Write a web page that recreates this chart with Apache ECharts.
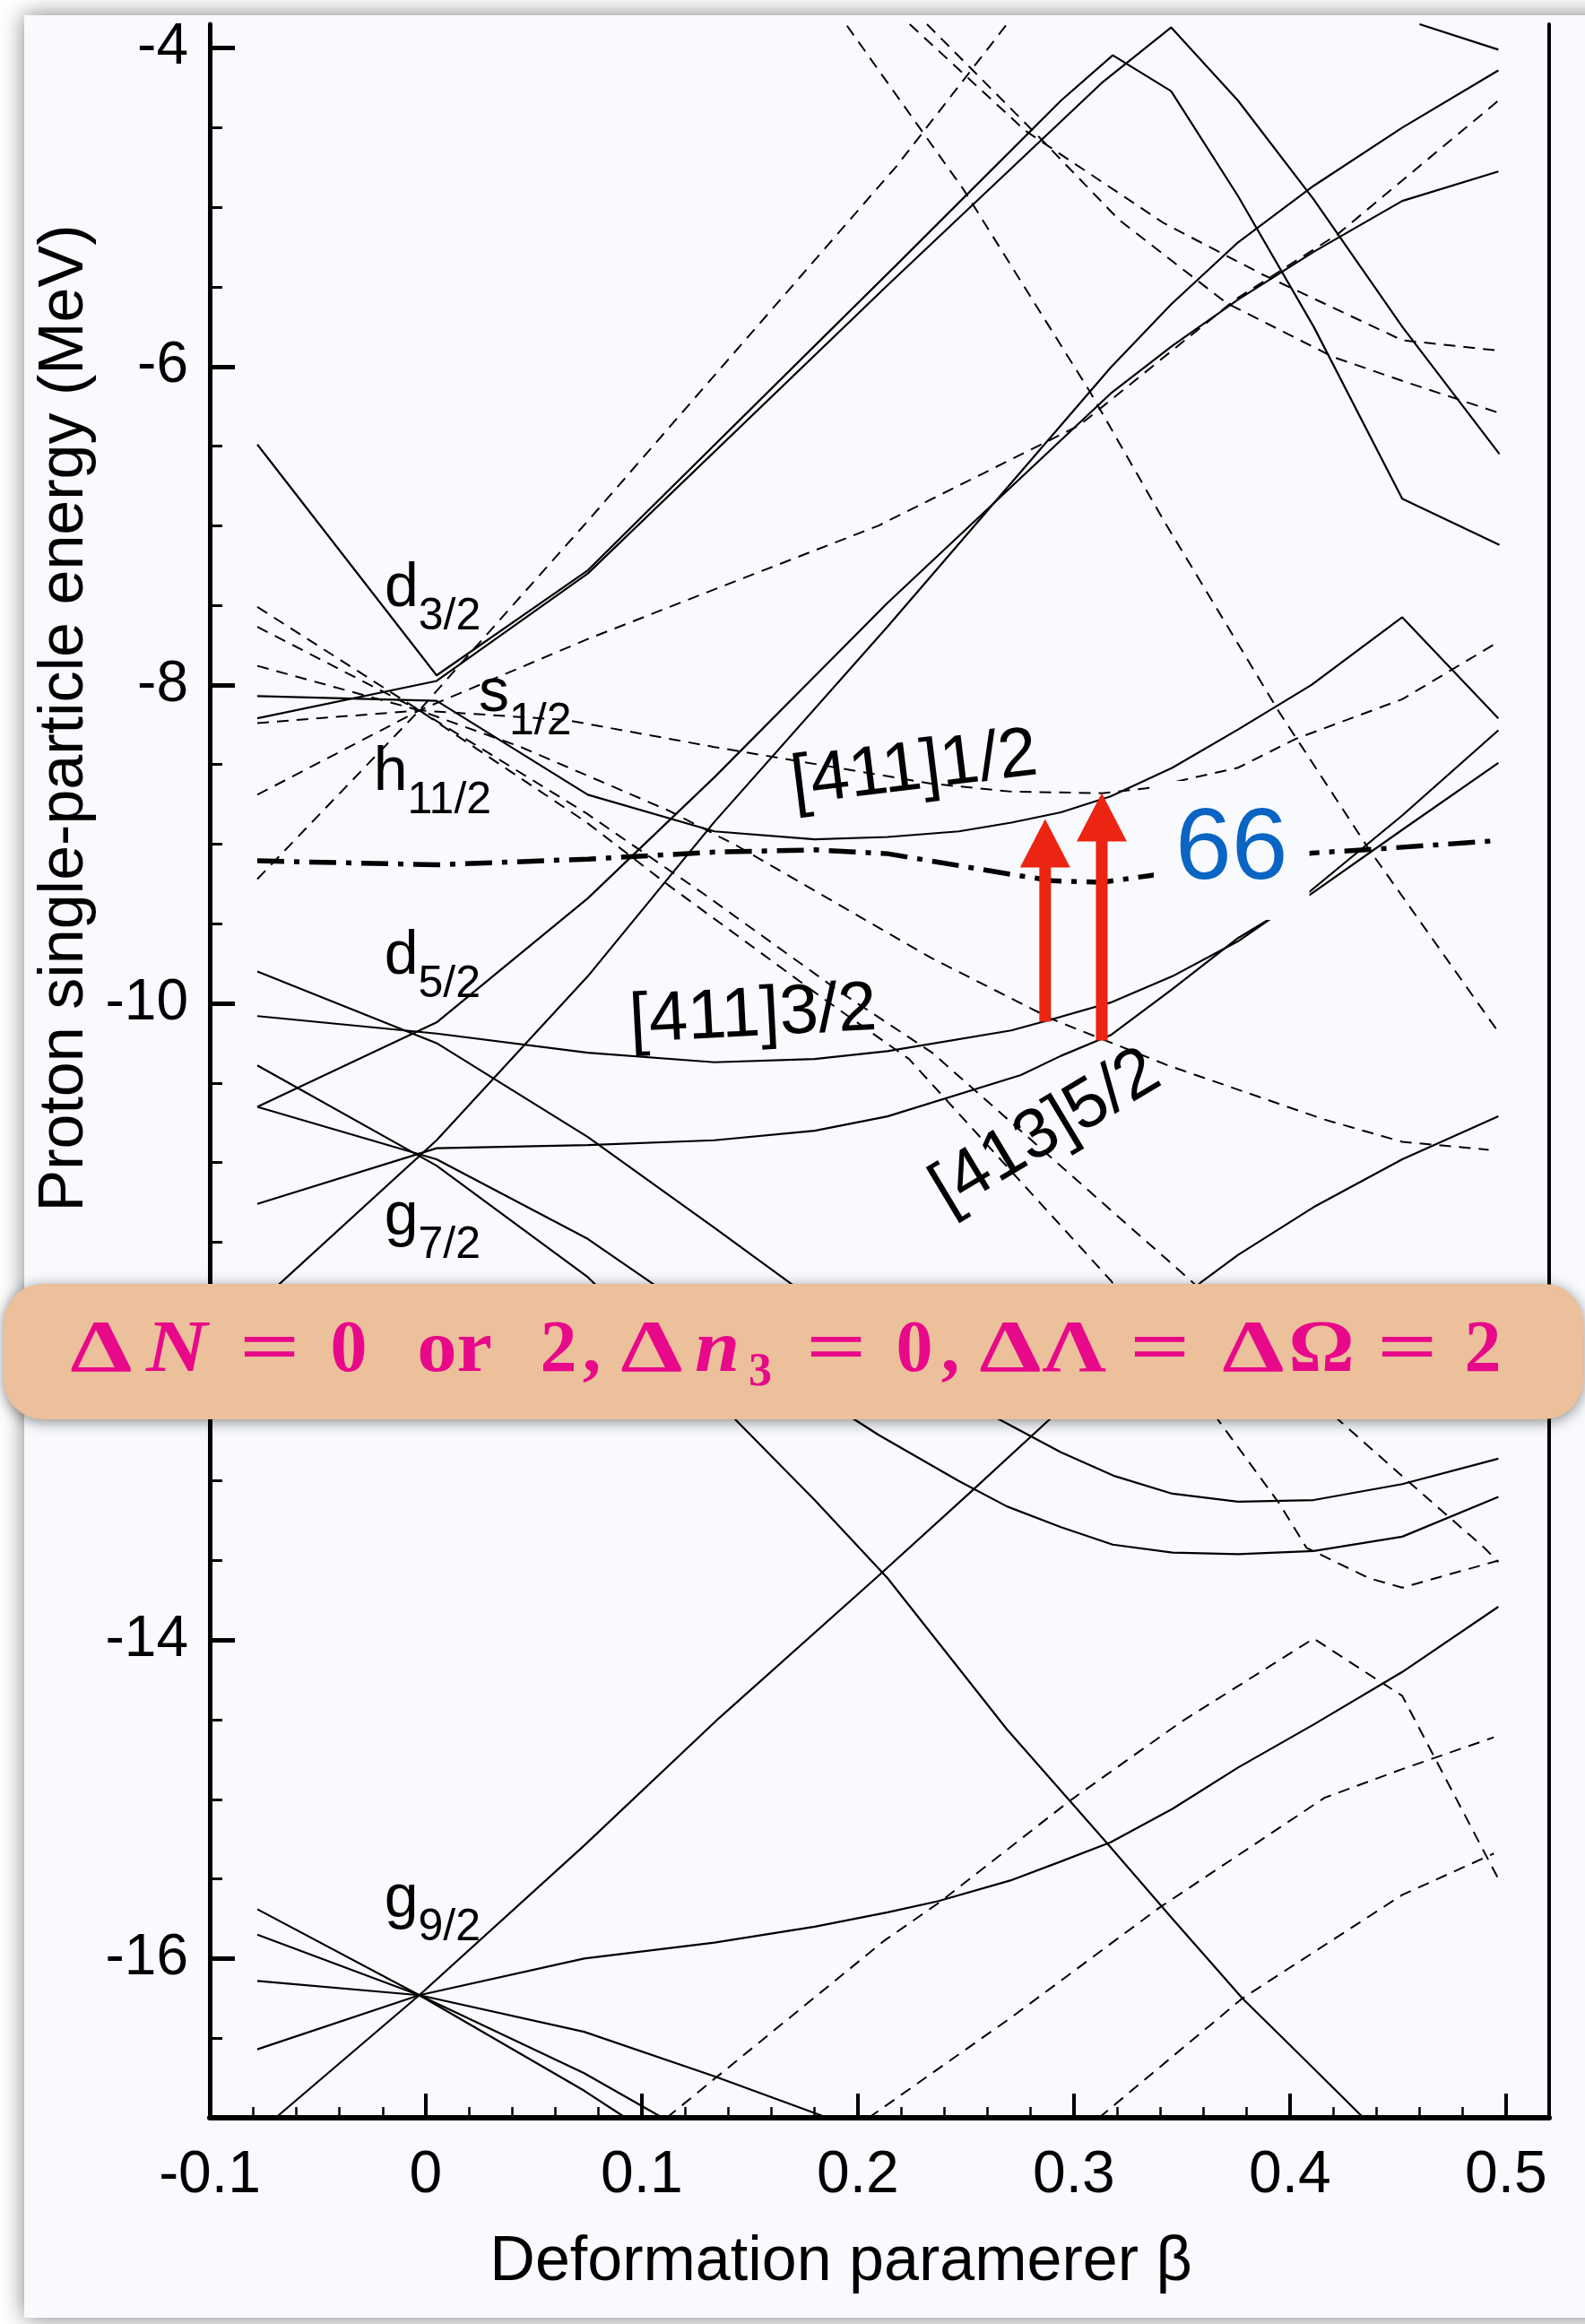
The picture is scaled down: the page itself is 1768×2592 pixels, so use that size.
<!DOCTYPE html>
<html>
<head>
<meta charset="utf-8">
<script src="https://cdn.jsdelivr.net/npm/echarts@6/dist/echarts.min.js"></script>
<style>
  html, body { margin: 0; padding: 0; background: #ffffff; }
  #chart { width: 1768px; height: 2592px; }
</style>
</head>
<body>
<div id="chart"></div>
<script>
// ---------- Proton Nilsson levels: energy (MeV) vs deformation beta ----------

// Axis ticks and their labels
const xMajorTicks = [-0.1, 0, 0.1, 0.2, 0.3, 0.4, 0.5];
const xTickLabels = ['-0.1', '0', '0.1', '0.2', '0.3', '0.4', '0.5'];
const yMajorTicks = [-16, -14, -12, -10, -8, -6, -4];
const yTickLabels = ['-16', '-14', '-12', '-10', '-8', '-6', '-4'];

// Positive-parity orbitals (solid), each as [beta, energy] pairs
const d32A = [[-0.078,-6.49],[0.005,-7.94],[0.075,-7.28],[0.218,-5.36],[0.294,-4.33],[0.318,-4.045],[0.345,-4.27],[0.376,-4.93],[0.411,-5.75],[0.452,-6.83],[0.497,-7.12]];
const d32B = [[-0.078,-8.21],[0.005,-7.975],[0.075,-7.30],[0.2137,-5.49],[0.3128,-4.22],[0.345,-3.87],[0.376,-4.33],[0.411,-4.95],[0.452,-5.75],[0.497,-6.55]];
const s12_411 = [[-0.078,-8.07],[0.005,-8.10],[0.075,-8.69],[0.1336,-8.92],[0.18,-8.97],[0.2137,-8.955],[0.2467,-8.92],[0.271,-8.865],[0.294,-8.80],[0.317,-8.70],[0.3456,-8.52],[0.376,-8.28],[0.41,-8.00],[0.452,-7.575],[0.4965,-8.21]];
const d52A = [[-0.078,-9.80],[0.005,-10.25],[0.075,-10.84],[0.1336,-11.41],[0.169,-11.76],[0.265,-12.61],[0.294,-12.82],[0.319,-12.97],[0.3456,-13.08],[0.376,-13.13],[0.411,-13.12],[0.452,-13.02],[0.4965,-12.86]];
const d52_411 = [[-0.078,-10.08],[0.005,-10.19],[0.075,-10.31],[0.1336,-10.37],[0.18,-10.35],[0.2137,-10.30],[0.271,-10.17],[0.29,-10.10],[0.317,-9.995],[0.3456,-9.83],[0.376,-9.61],[0.409,-9.30],[0.452,-8.82],[0.4965,-8.285]];
const d52R = [[-0.078,-10.65],[0.005,-10.12],[0.075,-9.34],[0.1336,-8.58],[0.2137,-7.485],[0.317,-6.17],[0.3456,-5.87],[0.376,-5.58],[0.411,-5.28],[0.452,-4.96],[0.4965,-4.775]];
const g72R = [[-0.078,-11.89],[0.005,-10.86],[0.075,-9.83],[0.1336,-8.86],[0.2137,-7.635],[0.317,-6.007],[0.345,-5.61],[0.376,-5.22],[0.411,-4.865],[0.452,-4.50],[0.4965,-4.14]];
const g72_413 = [[-0.078,-11.26],[0.005,-10.91],[0.075,-10.89],[0.1336,-10.86],[0.18,-10.80],[0.2137,-10.71],[0.2755,-10.45],[0.294,-10.33],[0.317,-10.20],[0.3456,-9.91],[0.376,-9.59],[0.409,-9.32],[0.452,-8.91],[0.4965,-8.49]];
const g72B = [[-0.078,-10.65],[0.005,-10.98],[0.075,-11.48],[0.105,-11.76],[0.198,-12.61],[0.2095,-12.71],[0.2467,-13.00],[0.269,-13.16],[0.294,-13.29],[0.318,-13.40],[0.3456,-13.45],[0.376,-13.46],[0.411,-13.44],[0.452,-13.35],[0.4965,-13.10]];
const g72C = [[-0.078,-10.39],[0.005,-11.02],[0.075,-11.72],[0.143,-12.61],[0.18,-13.12],[0.2137,-13.61],[0.269,-14.56],[0.315,-15.27],[0.3456,-15.75],[0.378,-16.25],[0.411,-16.69],[0.434,-17.0]];
const g92_440 = [[-0.0695,-17.0],[-0.003,-16.23],[0.0733,-15.29],[0.1357,-14.49],[0.21,-13.59],[0.253,-13.06],[0.289,-12.61],[0.359,-11.75],[0.376,-11.58],[0.411,-11.28],[0.452,-10.98],[0.4965,-10.71]];
const g92Up = [[-0.078,-16.57],[-0.003,-16.23],[0.0733,-16.0],[0.1336,-15.90],[0.18,-15.80],[0.2137,-15.71],[0.237,-15.64],[0.2705,-15.51],[0.294,-15.39],[0.317,-15.27],[0.3456,-15.06],[0.376,-14.80],[0.411,-14.53],[0.452,-14.20],[0.4965,-13.79]];
const g92Dn1 = [[-0.078,-16.14],[-0.003,-16.23],[0.0733,-16.46],[0.1336,-16.74],[0.186,-17.0]];
const g92Dn2 = [[-0.078,-15.85],[-0.003,-16.23],[0.0733,-16.72],[0.1096,-17.0]];
const g92Dn3 = [[-0.078,-15.69],[-0.003,-16.23],[0.0733,-16.83],[0.0925,-17.0]];
const upperRight = [[0.46,-3.85],[0.4965,-4.01]];

// Negative-parity orbitals (dashed)
const h112_1 = [[-0.078,-9.22],[-0.003,-8.16],[0.075,-6.97],[0.218,-4.74],[0.269,-3.85]];
const h112_2 = [[-0.078,-8.69],[-0.003,-8.16],[0.0753,-7.71],[0.1336,-7.40],[0.2095,-7.00],[0.3025,-6.37],[0.3747,-5.58],[0.422,-5.17],[0.4965,-4.33]];
const h112_3 = [[-0.078,-8.24],[-0.003,-8.16],[0.0647,-8.22],[0.1336,-8.39],[0.234,-8.62],[0.271,-8.67],[0.313,-8.68],[0.3334,-8.65],[0.376,-8.52],[0.4025,-8.34],[0.452,-8.09],[0.4965,-7.73]];
const h112_4 = [[-0.078,-7.88],[-0.003,-8.16],[0.044,-8.39],[0.1125,-8.79],[0.144,-9.01],[0.234,-9.715],[0.29,-10.10],[0.3436,-10.39],[0.416,-10.73],[0.452,-10.87],[0.492,-10.92]];
const h112_5 = [[-0.078,-7.635],[-0.003,-8.16],[0.0744,-8.807],[0.1284,-9.31],[0.192,-9.93],[0.2344,-10.31],[0.354,-11.74],[0.422,-12.61],[0.452,-12.97],[0.490,-13.42],[0.4965,-13.51]];
const h112_6 = [[-0.078,-7.51],[-0.003,-8.16],[0.0744,-8.863],[0.1125,-9.26],[0.184,-9.97],[0.2237,-10.35],[0.317,-11.74],[0.3664,-12.61],[0.395,-13.14],[0.4077,-13.42],[0.4365,-13.61],[0.452,-13.67],[0.4965,-13.50]];
const n5_1 = [[0.195,-3.86],[0.249,-4.89],[0.3075,-6.16],[0.3417,-6.97],[0.395,-8.17],[0.4365,-9.03],[0.4965,-10.18]];
const n5_2 = [[0.224,-3.85],[0.2776,-4.52],[0.3417,-5.10],[0.387,-5.42],[0.452,-5.835],[0.4965,-5.90]];
const n5_3 = [[0.232,-3.85],[0.284,-4.56],[0.321,-5.08],[0.3705,-5.60],[0.420,-5.94],[0.452,-6.09],[0.4965,-6.29]];
const n3_1 = [[0.1115,-17.0],[0.212,-15.89],[0.2385,-15.64],[0.298,-15.01],[0.35,-14.51],[0.411,-13.99],[0.452,-14.35],[0.4965,-15.50]];
const n3_2 = [[0.205,-17.0],[0.271,-16.37],[0.3396,-15.68],[0.416,-14.99],[0.452,-14.81],[0.4944,-14.61]];
const n3_3 = [[0.3116,-17.0],[0.378,-16.25],[0.452,-15.60],[0.4944,-15.34]];

// Fermi level for Z = 66
const fermi66 = [[-0.078,-9.105],[0.005,-9.13],[0.075,-9.094],[0.1336,-9.05],[0.18,-9.036],[0.2137,-9.06],[0.271,-9.19],[0.29,-9.23],[0.313,-9.24],[0.3355,-9.197],[0.41,-9.056],[0.4365,-9.034],[0.494,-8.98]];

// Transition arrows: beta, start energy, end energy
const arrowBeta = [0.2867, 0.3129];
const arrowFrom = [-10.115, -10.233];
const arrowTo = [-8.842, -8.679];

// Spherical shell labels and Nilsson orbital labels (anchored in data units)
const shellLabels = [
  { base: 'd', sub: '3/2',  beta: -0.0191, energy: -7.536 },
  { base: 's', sub: '1/2',  beta: 0.0245,  energy: -8.195 },
  { base: 'h', sub: '11/2', beta: -0.0242, energy: -8.69 },
  { base: 'd', sub: '5/2',  beta: -0.0192, energy: -9.845 },
  { base: 'g', sub: '7/2',  beta: -0.0192, energy: -11.483 },
  { base: 'g', sub: '9/2',  beta: -0.0192, energy: -15.768 }
];
const orbitalLabels = [
  { text: '[411]1/2', beta: 0.2261, energy: -8.533, angle: 7 },
  { text: '[411]3/2', beta: 0.1515, energy: -10.081, angle: 3 },
  { text: '[413]5/2', beta: 0.2871, energy: -10.807, angle: 31 }
];
const fermiLabel = { text: '66', beta: 0.373, energy: -9.04 };

// Selection rule, typeset glyph by glyph: [glyph, style]
const ruleGlyphs = [
  ['\u0394', 'b'], ['N', 'i'], ['=', 'b'], ['0', 'b'], ['or', 'b'], ['2', 'b'], [',', 'b'],
  ['\u0394', 'b'], ['n', 'i'], ['3', 's'], ['=', 'b'], ['0', 'b'], [',', 'b'],
  ['\u0394', 'b'], ['\u039b', 'b'], ['=', 'b'], ['\u0394', 'b'], ['\u03a9', 'b'], ['=', 'b'], ['2', 'b']
];

// ---------- styling ----------
const INK = '#000000';
const CARD = '#f8fafd';
const SANS = '"Liberation Sans", Arial, Helvetica, sans-serif';
const SERIF = '"Liberation Serif", "Times New Roman", serif';
const PINK = '#e8088a';
const RED = '#ec2412';
const BLUE = '#0a64c3';

// horizontal placement (glyph centres, px) and widening for the banner glyphs
const ruleCentres = [113, 197, 301, 389, 507, 623, 660, 727, 800, 848, 933, 1020, 1060, 1127, 1198, 1294, 1398, 1474, 1570, 1654];
const ruleStretch = { '\u0394': 1.35, 'N': 1.15, '=': 1.45, 'or': 1.08, 'n': 1.1, '\u039b': 1.22, '\u03a9': 1.12 };

function minorTicks(from, to, step, majors) {
  const out = [];
  const n = Math.round((to - from) / step);
  for (let k = 0; k <= n; k++) {
    const v = +(from + k * step).toFixed(4);
    if (!majors.some(m => Math.abs(m - v) < 1e-9)) out.push(v);
  }
  return out;
}
const xMinorTicks = minorTicks(-0.1, 0.5, 0.02, xMajorTicks);
const yMinorTicks = minorTicks(-17, -4, 0.5, yMajorTicks);

function labelFor(ticks, labels) {
  return v => {
    const i = ticks.findIndex(t => Math.abs(t - v) < 1e-6);
    return i >= 0 ? labels[i] : '';
  };
}

const solidLevels = [d32A, d32B, s12_411, d52A, d52_411, d52R, g72R, g72_413, g72B, g72C,
  g92_440, g92Up, g92Dn1, g92Dn2, g92Dn3, upperRight];
const dashedLevels = [h112_1, h112_2, h112_3, h112_4, h112_5, h112_6, n5_1, n5_2, n5_3, n3_1, n3_2, n3_3];

const series = [];
solidLevels.forEach(d => series.push({
  type: 'line', data: d, symbol: 'none', silent: true, z: 3,
  lineStyle: { color: INK, width: 2.2 }
}));
dashedLevels.forEach(d => series.push({
  type: 'line', data: d, symbol: 'none', silent: true, z: 3,
  lineStyle: { color: INK, width: 2, type: [13, 9] }
}));
series.push({
  type: 'line', data: fermi66, symbol: 'none', silent: true, z: 4,
  lineStyle: { color: INK, width: 5.5, type: [30, 11, 6, 11] }
});
series.push({
  type: 'custom', silent: true, z: 6,
  data: arrowBeta.map((b, i) => [b, arrowFrom[i], arrowTo[i]]),
  encode: { x: 0, y: [1, 2] },
  renderItem: function (params, api) {
    const base = api.coord([api.value(0), api.value(1)]);
    const tip = api.coord([api.value(0), api.value(2)]);
    const headLen = 54, headW = 56, shaftW = 13;
    const neck = tip[1] + headLen - 1;
    return {
      type: 'group',
      children: [
        { type: 'rect', shape: { x: base[0] - shaftW / 2, y: neck, width: shaftW, height: base[1] - neck }, style: { fill: RED } },
        { type: 'polygon', shape: { points: [[tip[0], tip[1]], [tip[0] - headW / 2, tip[1] + headLen], [tip[0] + headW / 2, tip[1] + headLen]] }, style: { fill: RED } }
      ]
    };
  }
});

const betaMin = -0.1, betaMax = 0.52, energyMin = -17, energyMax = -3.85;

const option = {
  backgroundColor: '#ffffff',
  animation: false,
  grid: { left: 234, right: 40, top: 27, bottom: 230, containLabel: false },
  xAxis: [
    {
      type: 'value', min: betaMin, max: betaMax, position: 'bottom',
      axisLine: { show: true, onZero: false, lineStyle: { color: INK, width: 6 } },
      axisTick: { show: true, inside: true, length: 27, customValues: xMajorTicks, lineStyle: { color: INK, width: 4 } },
      axisLabel: { show: true, customValues: xMajorTicks, formatter: labelFor(xMajorTicks, xTickLabels),
        margin: 32, color: INK, fontSize: 66, fontFamily: SANS },
      splitLine: { show: false }
    },
    {
      type: 'value', min: betaMin, max: betaMax, position: 'bottom',
      axisLine: { show: false, onZero: false },
      axisTick: { show: true, inside: true, length: 12, customValues: xMinorTicks, lineStyle: { color: INK, width: 2.5 } },
      axisLabel: { show: false }, splitLine: { show: false }
    }
  ],
  yAxis: [
    {
      type: 'value', min: energyMin, max: energyMax, position: 'left',
      axisLine: { show: true, onZero: false, lineStyle: { color: INK, width: 5 } },
      axisTick: { show: true, inside: true, length: 28, customValues: yMajorTicks, lineStyle: { color: INK, width: 5 } },
      axisLabel: { show: true, customValues: yMajorTicks, formatter: labelFor(yMajorTicks, yTickLabels),
        margin: 24, color: INK, fontSize: 64, fontFamily: SANS },
      splitLine: { show: false }
    },
    {
      type: 'value', min: energyMin, max: energyMax, position: 'left',
      axisLine: { show: false, onZero: false },
      axisTick: { show: true, inside: true, length: 14, customValues: yMinorTicks, lineStyle: { color: INK, width: 3 } },
      axisLabel: { show: false }, splitLine: { show: false }
    },
    {
      type: 'value', min: energyMin, max: energyMax, position: 'right',
      axisLine: { show: true, onZero: false, lineStyle: { color: INK, width: 4 } },
      axisTick: { show: false }, axisLabel: { show: false }, splitLine: { show: false }
    }
  ],
  series: series
};

const chart = echarts.init(document.getElementById('chart'), null, { renderer: 'canvas', width: 1768, height: 2592 });
chart.setOption(option);

// ---------- annotations placed through the axes ----------
const toPx = (b, e) => chart.convertToPixel({ xAxisIndex: 0, yAxisIndex: 0 }, [b, e]);
const measureCtx = document.createElement('canvas').getContext('2d');
function textWidth(text, size, family) {
  measureCtx.font = size + 'px ' + family;
  return measureCtx.measureText(text).width;
}

const BASE_SIZE = 68, SUB_SIZE = 50, SUB_DROP = 24, ORB_SIZE = 78;
const graphics = [];

// light card with soft shadow
graphics.push({
  type: 'rect', z: -10, silent: true,
  shape: { x: 27, y: 17, width: 1800, height: 2568 },
  style: { fill: CARD, shadowBlur: 24, shadowColor: 'rgba(0,0,0,0.5)' }
});

// axis titles
graphics.push({
  type: 'text', z: 10, silent: true, x: 938, y: 2524,
  style: { text: 'Deformation paramerer \u03b2', fontSize: 70, fontFamily: SANS, fill: INK, align: 'center', verticalAlign: 'middle' }
});
graphics.push({
  type: 'text', z: 10, silent: true, x: 73, y: 801, rotation: Math.PI / 2,
  style: { text: 'Proton single-particle energy (MeV)', fontSize: 70, fontFamily: SANS, fill: INK, align: 'center', verticalAlign: 'middle' }
});

// spherical shell labels with subscripts
shellLabels.forEach(l => {
  const p = toPx(l.beta, l.energy);
  graphics.push({
    type: 'text', z: 10, silent: true, x: p[0], y: p[1] - 0.35 * BASE_SIZE,
    style: { text: l.base, fontSize: BASE_SIZE, fontFamily: SANS, fill: INK, align: 'left', verticalAlign: 'middle' }
  });
  graphics.push({
    type: 'text', z: 10, silent: true,
    x: p[0] + textWidth(l.base, BASE_SIZE, SANS), y: p[1] + SUB_DROP - 0.35 * SUB_SIZE,
    style: { text: l.sub, fontSize: SUB_SIZE, fontFamily: SANS, fill: INK, align: 'left', verticalAlign: 'middle' }
  });
});

// Nilsson orbital labels
orbitalLabels.forEach(l => {
  const p = toPx(l.beta, l.energy);
  graphics.push({
    type: 'text', z: 10, silent: true, x: p[0], y: p[1], rotation: l.angle * Math.PI / 180,
    style: { text: l.text, fontSize: ORB_SIZE, fontFamily: SANS, fill: INK, align: 'center', verticalAlign: 'middle' }
  });
});

// proton number at the Fermi level
(function () {
  const p = toPx(fermiLabel.beta, fermiLabel.energy);
  graphics.push({
    type: 'text', z: 20, silent: true, x: p[0], y: p[1],
    style: { text: fermiLabel.text, fontSize: 113, fontFamily: SANS, fill: BLUE, align: 'center', verticalAlign: 'middle',
      backgroundColor: CARD, padding: [18, 24, 24, 24] }
  });
})();

// selection-rule banner
const RULE_SIZE = 82, RULE_SUB = 52, RULE_BASELINE = 1535, RULE_SUB_BASELINE = 1549;
const bannerChildren = [{
  type: 'rect', z: 100,
  shape: { x: 4, y: 1432, width: 1762, height: 151, r: 44 },
  style: { fill: '#ebc09a', shadowBlur: 16, shadowOffsetY: 3, shadowColor: 'rgba(0,0,0,0.45)' }
}];
ruleGlyphs.forEach((g, i) => {
  const sub = g[1] === 's';
  const size = sub ? RULE_SUB : RULE_SIZE;
  const baseline = sub ? RULE_SUB_BASELINE : RULE_BASELINE;
  const stretch = ruleStretch[g[0]] || 1;
  bannerChildren.push({
    type: 'text', z: 101,
    x: ruleCentres[i], y: baseline - 0.3375 * size, scaleX: stretch,
    style: {
      text: g[0], fontFamily: SERIF, fontWeight: 'bold', fontStyle: g[1] === 'i' ? 'italic' : 'normal',
      fontSize: size, fill: PINK, align: 'center', verticalAlign: 'middle'
    }
  });
});
graphics.push({ type: 'group', z: 100, silent: true, children: bannerChildren });

chart.setOption({ graphic: graphics });
</script>
</body>
</html>
